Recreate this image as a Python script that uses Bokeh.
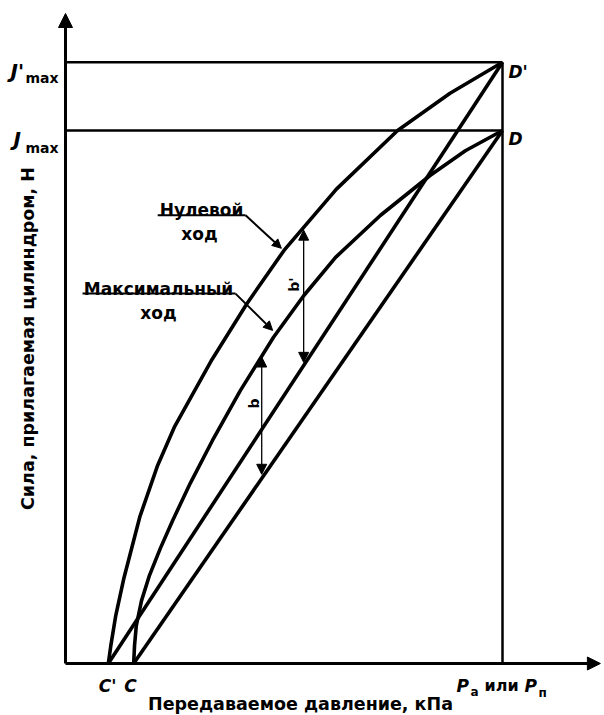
import math
from bokeh.plotting import figure
from bokeh.models import Range1d, Label, Arrow, NormalHead
from bokeh.embed import file_html
from bokeh.resources import INLINE

# ---------------- data (arbitrary units: pressure P = 100, force Jmax = 100) -------------
c_prime = 9.8          # C'
c_point = 15.6         # C
p_max = 100.0          # Pa или Pп
j_max = 100.0          # Jmax
j_max_prime = 112.8    # J'max

# zero stroke ("Нулевой ход") - application curve C' -> D'
zero_fwd_x = [9.8, 10.4, 11.5, 13.3, 17.0, 21.0, 25.0, 33.5, 41.5, 50.0, 62.0, 76.0, 88.0, 100.0]
zero_fwd_y = [0.0, 3.5, 9.0, 15.8, 27.5, 37.0, 44.5, 57.0, 67.5, 77.5, 89.0, 100.0, 107.0, 112.8]
# zero stroke - release line D' -> C'
zero_ret_x = [c_prime, p_max]
zero_ret_y = [0.0, j_max_prime]

# maximum stroke ("Максимальный ход") - application curve C -> D
max_fwd_x = [15.6, 15.8, 16.2, 17.4, 19.2, 21.7, 24.5, 28.6, 33.6, 40.0, 47.6, 54.5, 61.8, 72.1, 83.5, 91.5, 100.0]
max_fwd_y = [0.0, 3.4, 7.1, 11.8, 16.5, 21.6, 26.8, 33.9, 41.8, 51.2, 61.2, 69.0, 76.2, 84.1, 91.6, 96.2, 100.0]
# maximum stroke - release line D -> C
max_ret_x = [c_point, p_max]
max_ret_y = [0.0, j_max]

# hysteresis dimensions b' and b
b_prime_x, b_prime_top, b_prime_bottom = 54.5, 81.3, 56.5
b_x, b_top, b_bottom = 44.9, 57.5, 35.5

# label leader lines
zero_leader_x = [21.1, 41.2, 49.4]
zero_leader_y = [84.1, 84.1, 77.9]
max_leader_x = [3.9, 38.9, 47.4]
max_leader_y = [69.4, 69.4, 62.5]

# axis extents (arrow tips)
x_axis_end = 122.4
y_axis_end = 121.95

# ---------------- figure ----------------
SX, SY = 4.37, 5.33          # pixels per data unit
OX, OY = 65, 663             # pixel position of the origin
W, H = 604, 715
p = figure(width=W, height=H,
           x_range=Range1d(-OX / SX, (W - OX) / SX),
           y_range=Range1d((OY - H) / SY, OY / SY),
           output_backend="svg", toolbar_location=None,
           x_axis_location=None, y_axis_location=None,
           min_border=0, min_border_left=0, min_border_right=0,
           min_border_top=0, min_border_bottom=0)
p.grid.visible = False
p.outline_line_color = None
p.background_fill_color = "white"
p.border_fill_color = "white"

# axes with arrowheads
p.add_layout(Arrow(end=NormalHead(size=14, fill_color="black", line_color="black"),
                   x_start=0, y_start=0, x_end=0, y_end=y_axis_end,
                   line_width=3, line_color="black"))
p.add_layout(Arrow(end=NormalHead(size=13, fill_color="black", line_color="black"),
                   x_start=0, y_start=0, x_end=x_axis_end, y_end=0,
                   line_width=3, line_color="black"))

# reference lines
p.line([0, p_max], [j_max_prime, j_max_prime], line_width=2.5, line_color="black")
p.line([0, p_max], [j_max, j_max], line_width=2.5, line_color="black")
p.line([p_max, p_max], [0, j_max_prime], line_width=2.5, line_color="black")

# curves
CW = 3.6
p.line(zero_fwd_x, zero_fwd_y, line_width=CW, line_color="black", line_join="round")
p.line(zero_ret_x, zero_ret_y, line_width=CW, line_color="black")
p.line(max_fwd_x, max_fwd_y, line_width=CW, line_color="black", line_join="round")
p.line(max_ret_x, max_ret_y, line_width=CW, line_color="black")

# dimension arrows
def dim_arrow(x, y0, y1):
    p.add_layout(Arrow(start=NormalHead(size=10, fill_color="black", line_color="black"),
                       end=NormalHead(size=10, fill_color="black", line_color="black"),
                       x_start=x, y_start=y0, x_end=x, y_end=y1,
                       line_width=1.3, line_color="black"))

dim_arrow(b_prime_x, b_prime_bottom, b_prime_top)
dim_arrow(b_x, b_bottom, b_top)

# leader lines
for lx, ly in ((zero_leader_x, zero_leader_y), (max_leader_x, max_leader_y)):
    p.line(lx[:2], ly[:2], line_width=2, line_color="black")
    p.add_layout(Arrow(end=NormalHead(size=9, fill_color="black", line_color="black"),
                       x_start=lx[1], y_start=ly[1], x_end=lx[2], y_end=ly[2],
                       line_width=2, line_color="black"))

# ---------------- texts ----------------
FONT = "DejaVu Sans"

def lab(x, y, text, size="17px", style="bold", align="left", baseline="alphabetic", angle=0.0):
    p.add_layout(Label(x=x, y=y, text=text, text_font=FONT, text_font_size=size,
                       text_font_style=style, text_align=align, text_baseline=baseline,
                       text_color="black", angle=angle))

def dx(px):
    return (px - OX) / SX

def dy(py):
    return (OY - py) / SY

# axis titles
lab(dx(27), dy(338), "Сила, прилагаемая цилиндром, Н", size="17.5px",
    align="center", baseline="middle", angle=math.pi / 2)
lab(dx(300), dy(703), "Передаваемое давление, кПа", size="17.5px", align="center", baseline="middle")

# y labels
lab(dx(10), dy(70), "J'", size="20px", style="bold italic")
lab(dx(25), dy(77), "max", size="14px")
lab(dx(13), dy(138), "J", size="20px", style="bold italic")
lab(dx(25), dy(147), "max", size="14px")

# point labels
lab(dx(508), dy(71), "D'", size="17px", style="bold italic")
lab(dx(508), dy(138), "D", size="17px", style="bold italic")
lab(dx(107), dy(685), "C'", size="17px", style="bold italic", align="center")
lab(dx(130), dy(685), "C", size="17px", style="bold italic", align="center")
lab(dx(456), dy(685), "P", size="17px", style="bold italic")
lab(dx(470), dy(691), "a", size="12px", style="bold")
lab(dx(484), dy(685), "или", size="16px")
lab(dx(524), dy(685), "P", size="17px", style="bold italic")
lab(dx(538), dy(692), "п", size="12px", style="bold")

# curve labels
lab(dx(201), dy(209), "Нулевой", align="center")
lab(dx(199), dy(233), "ход", align="center")
lab(dx(158), dy(288), "Максимальный", align="center")
lab(dx(158), dy(312), "ход", align="center")

# dimension labels
lab(dx(293), dy(284), "b'", size="14px", align="center", baseline="middle", angle=math.pi / 2)
lab(dx(253), dy(403), "b", size="14px", align="center", baseline="middle", angle=math.pi / 2)

open("out.html", "w").write(file_html(p, INLINE))
